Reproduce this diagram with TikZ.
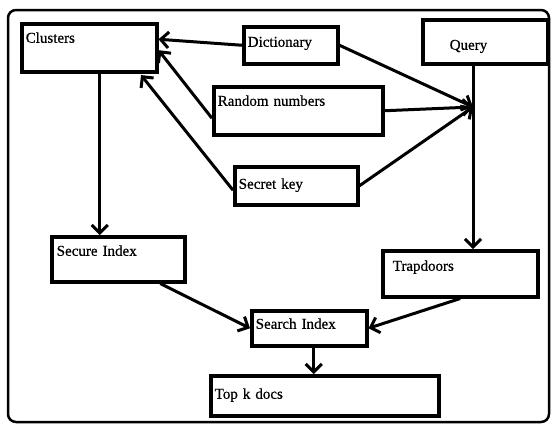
\documentclass[tikz,border=0pt]{standalone}
\usepackage{fontspec}
\setmainfont{Liberation Serif}[FakeBold=0.6]
\usetikzlibrary{arrows.meta}
\begin{document}
\begin{tikzpicture}[x=1pt,y=-1pt,
  bx/.style={draw, line width=3.5pt, anchor=north west, align=left, inner ysep=0pt,
    font=\fontsize{15}{17}\selectfont},
  arr/.style={line width=3pt, -{Straight Barb[length=8pt,width=16pt]}}]
\useasboundingbox (0,0) rectangle (552,424);
\draw[line width=2.5pt, rounded corners=8pt] (8,10) rectangle (549,422);
\node[bx, inner xsep=4pt, text width=127pt, text height=19pt, text depth=29pt] (clusters) at (20,22) {Clusters};
\node[bx, inner xsep=4pt, text width=86pt, text height=20pt, text depth=17pt] (dict) at (242,25) {Dictionary};
\node[bx, inner xsep=4pt, text width=161pt, text height=19pt, text depth=29pt] (rand) at (212,85) {Random numbers};
\node[bx, inner xsep=4pt, text width=115pt, text height=22pt, text depth=16pt] (secret) at (233,165) {Secret key};
\node[bx, inner xsep=27pt, text width=71pt, text height=30pt, text depth=14pt] (query) at (421,18) {Query};
\node[bx, inner xsep=10pt, text width=135pt, text height=20pt, text depth=26pt] (trap) at (381,249) {Trapdoors};
\node[bx, inner xsep=5pt, text width=123pt, text height=19pt, text depth=26pt] (secidx) at (50,235) {Secure Index};
\node[bx, inner xsep=4pt, text width=107pt, text height=18pt, text depth=17pt] (search) at (250,309) {Search Index};
\node[bx, inner xsep=4pt, text width=220pt, text height=23pt, text depth=17pt] (topk) at (209,374) {Top k docs};
\coordinate (hub) at (473,107);
% into Clusters
\draw[arr] (dict.west) -- (clusters.7);
\draw[arr] (rand.185) -- (clusters.-2);
\draw[arr, shorten >=2pt] (secret.184) -- (clusters.-27);
% into hub
\draw[arr] (dict.east) -- (hub);
\draw[arr] (rand.east) -- (hub);
\draw[arr] (secret.east) -- (hub);
% vertical flows
\draw[arr] ([xshift=10.5pt]clusters.south) -- ([xshift=10.5pt]clusters.south |- secidx.north);
\draw[arr] (hub |- query.south) -- (hub |- trap.north);
\draw[arr] (secidx.-30) -- (search.west);
\draw[arr] (trap.south) -- (search.east);
\draw[arr] ([xshift=4.5pt]search.south) -- ([xshift=4.5pt]search.south |- topk.north);
\end{tikzpicture}
\end{document}
